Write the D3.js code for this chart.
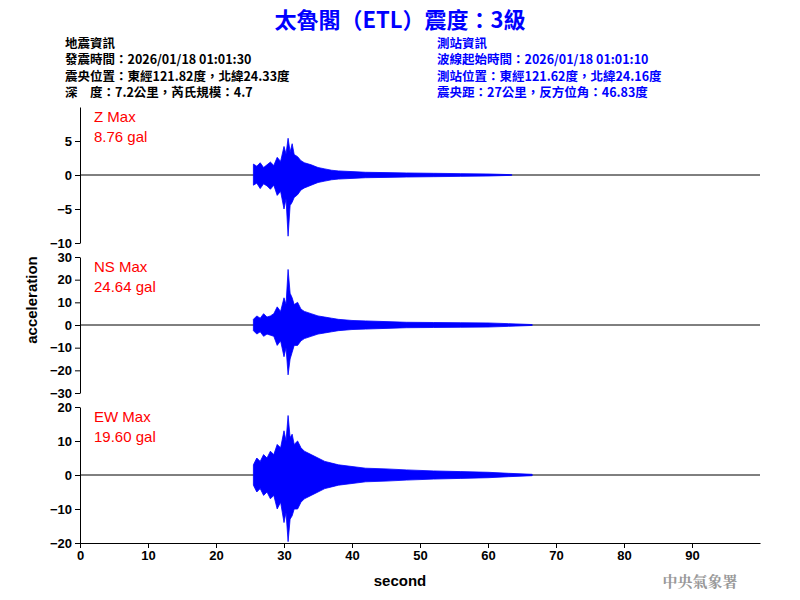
<!DOCTYPE html><html><head><meta charset="utf-8"><script src="https://cdn.jsdelivr.net/npm/d3@7"></script>
<style>body{margin:0;background:#fff}</style></head><body><svg id="c" width="800" height="600"></svg>
<script>
const xTicks=[0,10,20,30,40,50,60,70,80,90];
const zTicks=[5,0,-5,-10], nsTicks=[30,20,10,0,-10,-20,-30], ewTicks=[20,10,0,-10,-20];
// envelope samples (seconds, upper, lower)
const zT =[25.5,26,26.5,27,27.5,28,28.5,29,29.5,30,30.3,30.6,30.9,31.2,31.5,32,32.5,33,34,35,36,37,38,40,42,45,48,52,56,60,63.5];
const zUp=[1.6,1.3,1.8,1.1,1.5,1.9,1.4,2.6,2.0,4.2,3.1,5.4,3.4,4.6,3.0,2.7,2.1,1.8,1.5,1.1,0.9,0.7,0.6,0.5,0.4,0.35,0.3,0.25,0.2,0.15,0.05];
const zLo=[-1.5,-1.2,-2.0,-1.3,-1.6,-2.1,-1.5,-3.0,-2.4,-5.0,-3.5,-9.0,-4.5,-4.0,-3.3,-2.9,-2.2,-1.9,-1.5,-1.1,-0.9,-0.7,-0.6,-0.5,-0.4,-0.35,-0.3,-0.25,-0.2,-0.15,-0.05];
const nsT =[25.5,26,26.5,27,27.5,28,28.5,29,29.5,30,30.3,30.6,30.9,31.2,31.5,32,32.5,33,34,35,36,37,38,40,42,45,48,52,56,60,63,66.5];
const nsUp=[2.5,4,3,5,3.5,4,5,8,6,12,9,24.5,14,12,9,10,7,6,5,4,3.5,3,2.5,2,1.8,1.5,1.2,1.1,1,0.9,0.6,0.2];
const nsLo=[-2.5,-4,-3,-5,-4,-4.5,-5,-9,-7,-14,-10,-22,-15,-12,-9,-9,-7,-6,-5,-4,-3.5,-3,-2.5,-2,-1.8,-1.5,-1.2,-1.1,-1,-0.9,-0.6,-0.2];
const ewT =[25.5,26,26.5,27,27.5,28,28.5,29,29.5,30,30.3,30.6,30.9,31.2,31.5,32,32.5,33,34,35,36,37,38,40,42,45,48,52,56,60,63,66.5];
const ewUp=[3,5,4,6,5,7,6,9,8,13,10,17.5,11,12,9,10,8,7,6,5,4,3.5,3,2.5,2,1.8,1.5,1.2,1,0.8,0.5,0.2];
const ewLo=[-3,-5,-4,-6,-5,-7,-6,-10,-8,-14,-11,-19.6,-13,-12,-10,-10,-8,-7,-6,-5,-4,-3.5,-3,-2.5,-2,-1.8,-1.5,-1.2,-1,-0.8,-0.5,-0.2];
const info1=["地震資訊","發震時間：2026/01/18 01:01:30","震央位置：東經121.82度，北緯24.33度","深　度：7.2公里，芮氏規模：4.7"];
const info2=["測站資訊","波線起始時間：2026/01/18 01:01:10","測站位置：東經121.62度，北緯24.16度","震央距：27公里，反方位角：46.83度"];
const panels=[
 {name:"Z Max",val:"8.76 gal",dom:[-10,10],r:[243,107],ticks:zTicks,t:zT,up:zUp,lo:zLo},
 {name:"NS Max",val:"24.64 gal",dom:[-30,30],r:[393,257],ticks:nsTicks,t:nsT,up:nsUp,lo:nsLo},
 {name:"EW Max",val:"19.60 gal",dom:[-20,20],r:[543,407],ticks:ewTicks,t:ewT,up:ewUp,lo:ewLo}];
const svg=d3.select("#c");
const F="'Liberation Sans',Arial,sans-serif", CJK="'Noto Sans CJK TC',sans-serif";
svg.append("text").attr("x",400).attr("y",28).attr("text-anchor","middle").attr("fill","#0000ff").attr("font-size",22).attr("font-weight","bold").attr("font-family",CJK).text("太魯閣（ETL）震度：3級");
info1.forEach((s,i)=>svg.append("text").attr("x",65).attr("y",48+i*16.3).attr("font-size",12.5).attr("font-weight","bold").attr("font-family",CJK).attr("fill","#000").text(s));
info2.forEach((s,i)=>svg.append("text").attr("x",437).attr("y",48+i*16.3).attr("font-size",12.5).attr("font-weight","bold").attr("font-family",CJK).attr("fill","#0000ff").text(s));
const x=d3.scaleLinear().domain([0,100]).range([80,760]);
panels.forEach(p=>{
 const y=d3.scaleLinear().domain(p.dom).range(p.r);
 const g=svg.append("g").attr("transform","translate(80,0)");
 g.call(d3.axisLeft(y).tickValues(p.ticks).tickSize(5).tickSizeOuter(0)).call(a=>{a.selectAll("text").attr("font-size",13).attr("font-family",F).attr("font-weight","bold").attr("fill","#000");});
 svg.append("line").attr("x1",x(0)).attr("x2",x(100)).attr("y1",y(0)).attr("y2",y(0)).attr("stroke","#000");
 const pts=p.t.map((t,i)=>({t,u:p.up[i],l:p.lo[i]}));
 svg.append("path").datum(pts).attr("fill","#0000ff").attr("stroke","#0000ff").attr("stroke-width",0.8)
  .attr("d",d3.area().x(d=>x(d.t)).y0(d=>y(d.l)).y1(d=>y(d.u)).curve(d3.curveLinear));
 svg.append("text").attr("x",94).attr("y",p.r[1]+15).attr("fill","#ff0000").attr("font-size",15).attr("font-family",F).text(p.name);
 svg.append("text").attr("x",94).attr("y",p.r[1]+35).attr("fill","#ff0000").attr("font-size",15).attr("font-family",F).text(p.val);
});
const gx=svg.append("g").attr("transform","translate(0,543)").call(d3.axisBottom(x).tickValues(xTicks).tickSize(5).tickSizeOuter(0));
gx.selectAll("text").attr("font-size",13).attr("font-family",F).attr("font-weight","bold").attr("fill","#000");
svg.append("text").attr("transform","translate(37,300) rotate(-90)").attr("text-anchor","middle").attr("font-size",15).attr("font-weight","bold").attr("font-family",F).text("acceleration");
svg.append("text").attr("x",400).attr("y",586).attr("text-anchor","middle").attr("font-size",15).attr("font-weight","bold").attr("font-family",F).text("second");
svg.append("text").attr("x",700).attr("y",587).attr("text-anchor","middle").attr("font-size",15).attr("font-weight","bold").attr("fill","#999").attr("font-family","'Noto Serif CJK TC',"+CJK).text("中央氣象署");
</script></body></html>
